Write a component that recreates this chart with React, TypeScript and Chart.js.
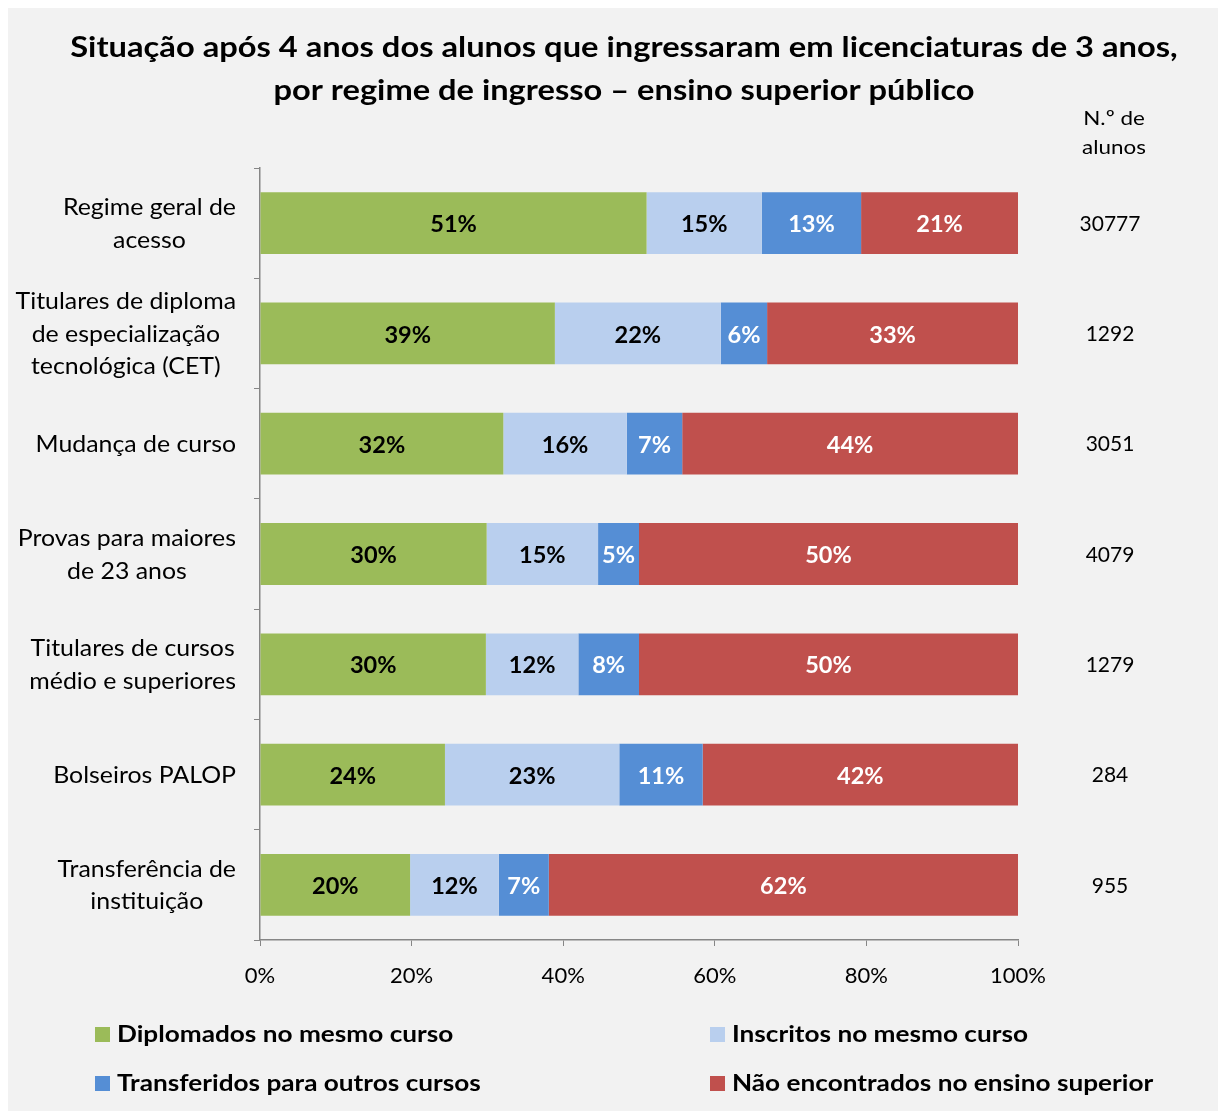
import React, { useEffect, useRef } from "react";
import { Chart, registerables } from "chart.js";

Chart.register(...registerables);

const categories: string[][] = [
  ["Regime geral de", "acesso"],
  ["Titulares de diploma", "de especialização", "tecnológica (CET)"],
  ["Mudança de curso"],
  ["Provas para maiores", "de 23 anos"],
  ["Titulares de cursos", "médio e superiores"],
  ["Bolseiros PALOP"],
  ["Transferência de", "instituição"],
];

const diplomados = [51.0, 38.9, 32.1, 29.9, 29.8, 24.4, 19.8];
const inscritos = [15.2, 21.9, 16.3, 14.7, 12.2, 23.0, 11.7];
const transferidos = [13.1, 6.1, 7.3, 5.4, 8.0, 11.0, 6.6];
const naoEncontrados = [20.7, 33.1, 44.3, 50.0, 50.0, 41.6, 61.9];

const nAlunos = ["30777", "1292", "3051", "4079", "1279", "284", "955"];

const seriesNames = [
  "Diplomados no mesmo curso",
  "Inscritos no mesmo curso",
  "Transferidos para outros cursos",
  "Não encontrados no ensino superior",
];
const seriesColors = ["#9bbb59", "#b9cfee", "#558ed5", "#c0504d"];
const labelColors = ["#000000", "#000000", "#ffffff", "#ffffff"];

const titleLines = [
  "Situação após 4 anos dos alunos que ingressaram em licenciaturas de 3 anos,",
  "por regime de ingresso – ensino superior público",
];

const FONT = "Lato, 'Open Sans', sans-serif";

function txt(
  ctx: CanvasRenderingContext2D,
  s: string,
  x: number,
  y: number,
  sx: number,
  align: CanvasTextAlign
) {
  ctx.save();
  ctx.translate(x, y);
  ctx.scale(sx, 1);
  ctx.textAlign = align;
  ctx.textBaseline = "middle";
  ctx.fillText(s, 0, 0);
  ctx.restore();
}

export default function App() {
  const ref = useRef<HTMLCanvasElement | null>(null);

  useEffect(() => {
    if (!ref.current) return;
    const data = [diplomados, inscritos, transferidos, naoEncontrados];

    const extras = {
      id: "extras",
      afterDatasetsDraw(chart: any) {
        const ctx = chart.ctx;
        ctx.save();
        ctx.font = `bold 22px ${FONT}`;
        chart.data.datasets.forEach((ds: any, i: number) => {
          const meta = chart.getDatasetMeta(i);
          meta.data.forEach((el: any, j: number) => {
            const v = ds.data[j];
            ctx.fillStyle = labelColors[i];
            txt(ctx, Math.round(v) + "%", (el.x + el.base) / 2, el.y + 2, 1.07, "center");
          });
        });
        ctx.restore();
      },
      afterDraw(chart: any) {
        const ctx = chart.ctx;
        const yScale = chart.scales.y;
        ctx.save();
        ctx.fillStyle = "#000";
        // title
        ctx.font = `bold 28px ${FONT}`;
        txt(ctx, titleLines[0], 616, 40, 1.167, "center");
        txt(ctx, titleLines[1], 616, 83, 1.165, "center");
        // header of counts column
        ctx.font = `20px ${FONT}`;
        txt(ctx, "N.º de", 1106, 111, 1.12, "center");
        txt(ctx, "alunos", 1106, 140, 1.12, "center");
        // counts
        ctx.font = `21px ${FONT}`;
        nAlunos.forEach((n, i) => {
          txt(ctx, n, 1102, yScale.getPixelForValue(i) + 1, 1, "center");
        });
        // category labels (centered block, right-aligned to the axis)
        ctx.font = `22.5px ${FONT}`;
        const sxCat = 1.105;
        const lh = 32.5;
        categories.forEach((lines, i) => {
          const w = Math.max(...lines.map((l) => ctx.measureText(l).width)) * sxCat;
          const cx = 228 - w / 2;
          const cy = yScale.getPixelForValue(i) + 1;
          lines.forEach((l, k) => {
            const y = cy + (k - (lines.length - 1) / 2) * lh;
            txt(ctx, l, cx, y, sxCat, "center");
          });
        });
        // legend
        ctx.font = `bold 22px ${FONT}`;
        const pos = [
          [87, 1026],
          [702, 1026],
          [87, 1075],
          [702, 1075],
        ];
        seriesNames.forEach((name, i) => {
          const [x, y] = pos[i];
          ctx.fillStyle = seriesColors[i];
          ctx.fillRect(x, y - 7, 15, 15);
          ctx.fillStyle = "#000";
          txt(ctx, name, x + 22, y + 1, 1.19, "left");
        });
        ctx.restore();
      },
    };

    const chart = new Chart(ref.current, {
      type: "bar",
      data: {
        labels: categories.map((c) => c.join(" ")),
        datasets: data.map((d, i) => ({
          label: seriesNames[i],
          data: d,
          backgroundColor: seriesColors[i],
          borderWidth: 0,
          categoryPercentage: 1,
          barPercentage: 0.56,
        })),
      },
      options: {
        indexAxis: "y",
        responsive: false,
        animation: false,
        layout: { padding: { left: 0, right: 208, top: 160, bottom: 111 } },
        plugins: {
          legend: { display: false },
          title: { display: false },
          tooltip: { enabled: false },
        },
        scales: {
          x: {
            stacked: true,
            min: 0,
            max: 100,
            afterFit: (s: any) => {
              s.height = 60;
            },
            ticks: {
              stepSize: 20,
              callback: (v: any) => v + "%",
              font: { family: FONT, size: 22 },
              color: "#000",
              padding: 17,
            },
            grid: {
              drawOnChartArea: false,
              drawTicks: true,
              tickLength: 6,
              color: "#868686",
            },
            border: { color: "#868686", width: 1.5 },
          },
          y: {
            stacked: true,
            afterFit: (s: any) => {
              s.width = 252;
            },
            ticks: { display: false },
            grid: {
              offset: true,
              drawOnChartArea: false,
              drawTicks: true,
              tickLength: 6,
              color: "#868686",
            },
            border: { color: "#868686", width: 1.5 },
          },
        },
      },
      plugins: [extras],
    });
    return () => chart.destroy();
  }, []);

  return (
    <div style={{ width: 1218, height: 1103, background: "#f2f2f2" }}>
      <canvas ref={ref} width={1218} height={1103} style={{ display: "block" }} />
    </div>
  );
}
